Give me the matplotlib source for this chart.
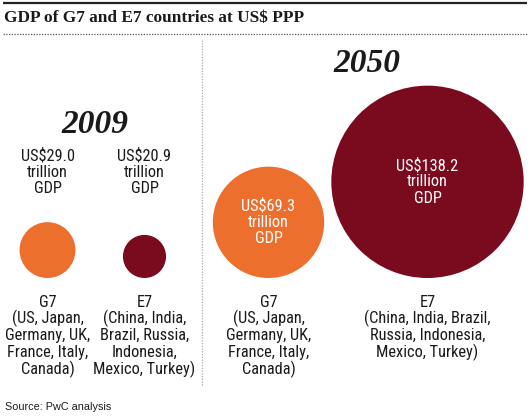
# -*- coding: utf-8 -*-
# GDP of G7 and E7 countries at US$ PPP - bubble comparison 2009 vs 2050

import matplotlib
matplotlib.use('Agg')
import matplotlib.pyplot as plt
from matplotlib.patches import Circle


#%% Data

TITLE = 'GDP of G7 and E7 countries at US$ PPP'
SOURCE = 'Source: PwC analysis'
years = ['2009', '2050']
groups = ['G7', 'E7']
gdp_2009 = [29.0, 20.9]     # US$ trillion
gdp_2050 = [69.3, 138.2]    # US$ trillion

# member lists, wrapped as in the original
labels_2009 = [
    ['G7', '(US, Japan,', 'Germany, UK,', 'France, Italy,', 'Canada)'],
    ['E7', '(China, India,', 'Brazil, Russia,', 'Indonesia,', 'Mexico, Turkey)'],
]
labels_2050 = [
    ['G7', '(US, Japan,', 'Germany, UK,', 'France, Italy,', 'Canada)'],
    ['E7', '(China, India, Brazil,', 'Russia, Indonesia,', 'Mexico, Turkey)'],
]


#%% Style / layout (pixel space, y grows downward)

W, H = 530, 419
ORANGE = '#EC6F2E'
MAROON = '#7A0A1E'
TXT = '#1a1a1a'
COND = ['Roboto Condensed', 'Liberation Sans Narrow', 'Roboto', 'DejaVu Sans']
SERIF = ['Liberation Serif', 'DejaVu Serif']
FS = 11.8

col_x = {'2009': [47.5, 144.5], '2050': [268.5, 427.5]}
baseline = 278          # circles sit on a common bottom line
label_top = 302         # first label line
line_step = 16.8


def radius(v):
    '''Bubble radius in px from GDP value (power scale).'''
    return 1.94 * v ** 0.792


def value_text(v):
    return [f'US${v:.1f}', 'trillion', 'GDP']


#%% Figure

fig = plt.figure(figsize=(W / 100, H / 100), dpi=100)
ax = fig.add_axes([0, 0, 1, 1])
ax.set_xlim(0, W)
ax.set_ylim(H, 0)
ax.set_aspect('equal')
ax.axis('off')

# header rules and title
ax.plot([3, 527], [3, 3], color='#222222', lw=1.6, solid_capstyle='butt')
ax.text(4, 18, TITLE, family=SERIF, fontweight='bold', fontsize=12.4,
        color=TXT, va='center', ha='left')
ax.plot([3, 527], [34, 34], color='#555555', lw=0.9, linestyle=(0, (1, 1.2)))

# vertical divider
ax.plot([202, 202], [40, 386], color='#aaaaaa', lw=0.9, linestyle=(0, (1, 1.2)))

# year headers
ax.text(95, 124, years[0], family=SERIF, fontweight='bold', fontstyle='italic',
        fontsize=24, color=TXT, ha='center', va='center')
ax.text(367, 64, years[1], family=SERIF, fontweight='bold', fontstyle='italic',
        fontsize=24, color=TXT, ha='center', va='center')

colors = [ORANGE, MAROON]

# 2009 bubbles: values above the circle
for i, v in enumerate(gdp_2009):
    x = col_x['2009'][i]
    r = radius(v)
    ax.add_patch(Circle((x, baseline - r), r, color=colors[i], lw=0))
    for j, line in enumerate(value_text(v)):
        ax.text(x, 156 + j * 16.3, line, family=COND, fontsize=FS,
                color=TXT, ha='center', va='center')
    for j, line in enumerate(labels_2009[i]):
        ax.text(x, label_top + j * line_step, line, family=COND, fontsize=FS,
                color=TXT, ha='center', va='center')

# 2050 bubbles: values inside the circle
for i, v in enumerate(gdp_2050):
    x = col_x['2050'][i]
    r = radius(v)
    cy = baseline - r
    ax.add_patch(Circle((x, cy), r, color=colors[i], lw=0))
    for j, line in enumerate(value_text(v)):
        ax.text(x, cy - 16.3 + j * 16.3, line, family=COND, fontsize=FS,
                color='white', ha='center', va='center')
    for j, line in enumerate(labels_2050[i]):
        ax.text(x, label_top + j * line_step, line, family=COND, fontsize=FS,
                color=TXT, ha='center', va='center')

# source
ax.text(5, 407, SOURCE, family=['Liberation Sans', 'DejaVu Sans'], fontsize=7.8,
        color=TXT, ha='left', va='center')

plt.savefig('out.png', dpi=100)
plt.close(fig)
